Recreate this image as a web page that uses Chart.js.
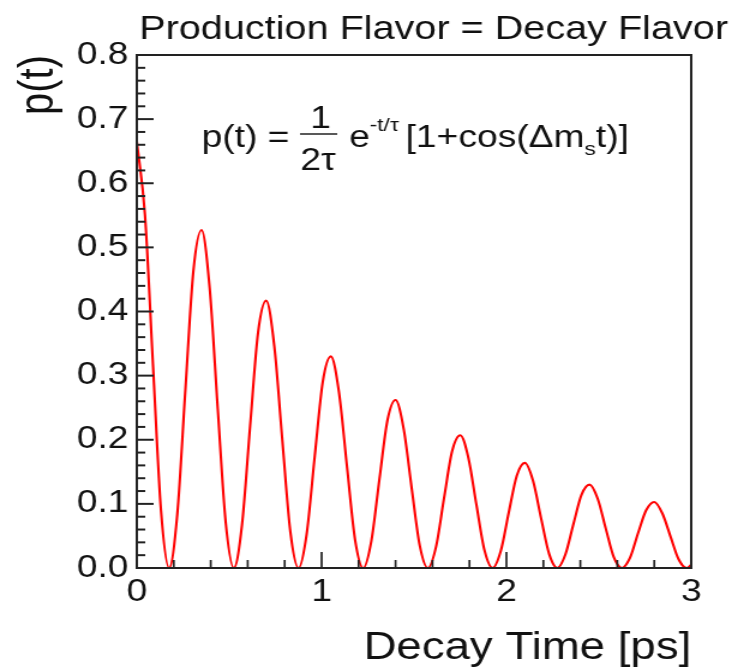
<!DOCTYPE html>
<html>
<head>
<meta charset="utf-8">
<script src="https://cdn.jsdelivr.net/npm/chart.js@4.4.1/dist/chart.umd.min.js"></script>
<style>
  html, body { margin: 0; padding: 0; background: #fff; }
</style>
</head>
<body>
<!-- the canvas is drawn 615 wide and shown 738 wide, the original plot is stretched sideways -->
<canvas id="chart" width="615" height="668" style="display:block;width:738px;height:668px;"></canvas>
<script>
var chartTitle = "Production Flavor = Decay Flavor";
var xTitle = "Decay Time [ps]";
var yTitle = "p(t)";

var xTicks = [0, 1, 2, 3];
var yTicks = [0, 0.1, 0.2, 0.3, 0.4, 0.5, 0.6, 0.7, 0.8];

// decay time [ps]
var decayTime = [
  0, 0.044, 0.088, 0.131, 0.175, 0.219, 0.263, 0.306,
  0.350, 0.394, 0.438, 0.481, 0.525, 0.569, 0.613, 0.656,
  0.700, 0.744, 0.788, 0.831, 0.875, 0.919, 0.963, 1.006,
  1.050, 1.094, 1.138, 1.181, 1.225, 1.269, 1.313, 1.356,
  1.400, 1.444, 1.488, 1.531, 1.575, 1.619, 1.663, 1.706,
  1.750, 1.794, 1.838, 1.881, 1.925, 1.969, 2.013, 2.056,
  2.100, 2.144, 2.188, 2.231, 2.275, 2.319, 2.363, 2.406,
  2.450, 2.494, 2.538, 2.581, 2.625, 2.669, 2.713, 2.756,
  2.800, 2.844, 2.888, 2.931, 2.975, 3.000
];

// p(t)
var probability = [
  0.665, 0.551, 0.314, 0.089, 0.000, 0.084, 0.279, 0.463,
  0.527, 0.437, 0.248, 0.071, 0.000, 0.067, 0.221, 0.367,
  0.417, 0.346, 0.197, 0.056, 0.000, 0.053, 0.175, 0.290,
  0.330, 0.274, 0.156, 0.044, 0.000, 0.042, 0.139, 0.230,
  0.262, 0.217, 0.123, 0.035, 0.000, 0.033, 0.110, 0.182,
  0.207, 0.172, 0.098, 0.028, 0.000, 0.026, 0.087, 0.144,
  0.164, 0.136, 0.077, 0.022, 0.000, 0.021, 0.069, 0.114,
  0.130, 0.108, 0.061, 0.017, 0.000, 0.016, 0.055, 0.090,
  0.103, 0.085, 0.049, 0.014, 0.000, 0.005
];

var fontFamily = "'Liberation Sans', Arial, sans-serif";

// ROOT style frame: box, inward ticks, title and formula
var rootFrame = {
  id: "rootFrame",
  afterDraw: function(chart) {
    var ctx = chart.ctx;
    var area = chart.chartArea;
    var xs = chart.scales.x;
    var ys = chart.scales.y;
    ctx.save();
    ctx.strokeStyle = "#222";

    ctx.lineWidth = 2;
    for (var i = 0; i <= 40; i++) {
      var py = ys.getPixelForValue(i * 0.02);
      var len = (i % 5 === 0) ? 14 : 7;
      ctx.beginPath();
      ctx.moveTo(area.left, py);
      ctx.lineTo(area.left + len, py);
      ctx.stroke();
    }
    ctx.lineWidth = 1.7;
    for (var j = 0; j <= 15; j++) {
      var px = xs.getPixelForValue(j * 0.2);
      var l = (j % 5 === 0) ? 16 : 8;
      ctx.beginPath();
      ctx.moveTo(px, area.bottom);
      ctx.lineTo(px, area.bottom - l);
      ctx.stroke();
    }
    ctx.lineWidth = 2;
    ctx.strokeRect(area.left, area.top, area.right - area.left, area.bottom - area.top);

    ctx.fillStyle = "#111";
    ctx.textBaseline = "alphabetic";
    ctx.textAlign = "left";
    ctx.font = "33px " + fontFamily;
    ctx.fillText(chartTitle, 116, 39);

    // p(t) = 1/(2tau) e^{-t/tau} [1+cos(dm_s t)]
    var base = 147;
    ctx.font = "31px " + fontFamily;
    ctx.fillText("p(t) =", 168, base);
    ctx.textAlign = "center";
    ctx.fillText("1", 267, 128);
    ctx.fillText("2\u03c4", 265, 170);
    ctx.lineWidth = 1.5;
    ctx.beginPath();
    ctx.moveTo(250, 134);
    ctx.lineTo(281, 134);
    ctx.stroke();
    ctx.textAlign = "left";
    ctx.fillText("e", 291, base);
    ctx.font = "19px " + fontFamily;
    ctx.fillText("-t/\u03c4", 308, 131);
    ctx.font = "31px " + fontFamily;
    var x = 338;
    var part = "[1+cos(\u0394m";
    ctx.fillText(part, x, base);
    x += ctx.measureText(part).width;
    ctx.font = "19px " + fontFamily;
    ctx.fillText("s", x, base + 8);
    x += ctx.measureText("s").width;
    ctx.font = "31px " + fontFamily;
    ctx.fillText("t)]", x, base);
    ctx.restore();
  }
};

function drawChart() {
  var points = [];
  for (var i = 0; i < decayTime.length; i++) {
    points.push({ x: decayTime[i], y: probability[i] });
  }
  var ctx = document.getElementById("chart").getContext("2d");
  new Chart(ctx, {
    type: "line",
    data: {
      datasets: [{
        data: points,
        borderColor: "#ff0000",
        borderWidth: 2.1,
        pointRadius: 0,
        fill: false,
        cubicInterpolationMode: "monotone"
      }]
    },
    options: {
      responsive: false,
      maintainAspectRatio: false,
      animation: false,
      devicePixelRatio: 1,
      layout: { padding: { top: 55, right: 39, bottom: 0, left: 0 } },
      plugins: {
        legend: { display: false },
        tooltip: { enabled: false }
      },
      scales: {
        x: {
          type: "linear",
          min: 0,
          max: 3,
          afterBuildTicks: function(scale) {
            scale.ticks = xTicks.map(function(v) { return { value: v }; });
          },
          afterFit: function(scale) { scale.height = 100; },
          grid: { display: false, drawTicks: false },
          border: { display: false },
          ticks: {
            padding: 6,
            color: "#111",
            font: { family: fontFamily, size: 31 },
            maxRotation: 0,
            autoSkip: false,
            callback: function(v) { return String(v); }
          },
          title: {
            display: true,
            text: xTitle,
            align: "end",
            color: "#111",
            font: { family: fontFamily, size: 38, lineHeight: 1 },
            padding: { top: 0, bottom: 0 }
          }
        },
        y: {
          min: 0,
          max: 0.8,
          afterBuildTicks: function(scale) {
            scale.ticks = yTicks.map(function(v) { return { value: v }; });
          },
          afterFit: function(scale) { scale.width = 114; },
          grid: { display: false, drawTicks: false },
          border: { display: false },
          ticks: {
            padding: 7,
            color: "#111",
            font: { family: fontFamily, size: 31 },
            autoSkip: false,
            callback: function(v) { return v.toFixed(1); }
          },
          title: {
            display: true,
            text: yTitle,
            align: "end",
            color: "#111",
            font: { family: fontFamily, size: 40 },
            padding: { top: 9, bottom: 0 }
          }
        }
      }
    },
    plugins: [rootFrame]
  });
}

drawChart();
</script>
</body>
</html>
